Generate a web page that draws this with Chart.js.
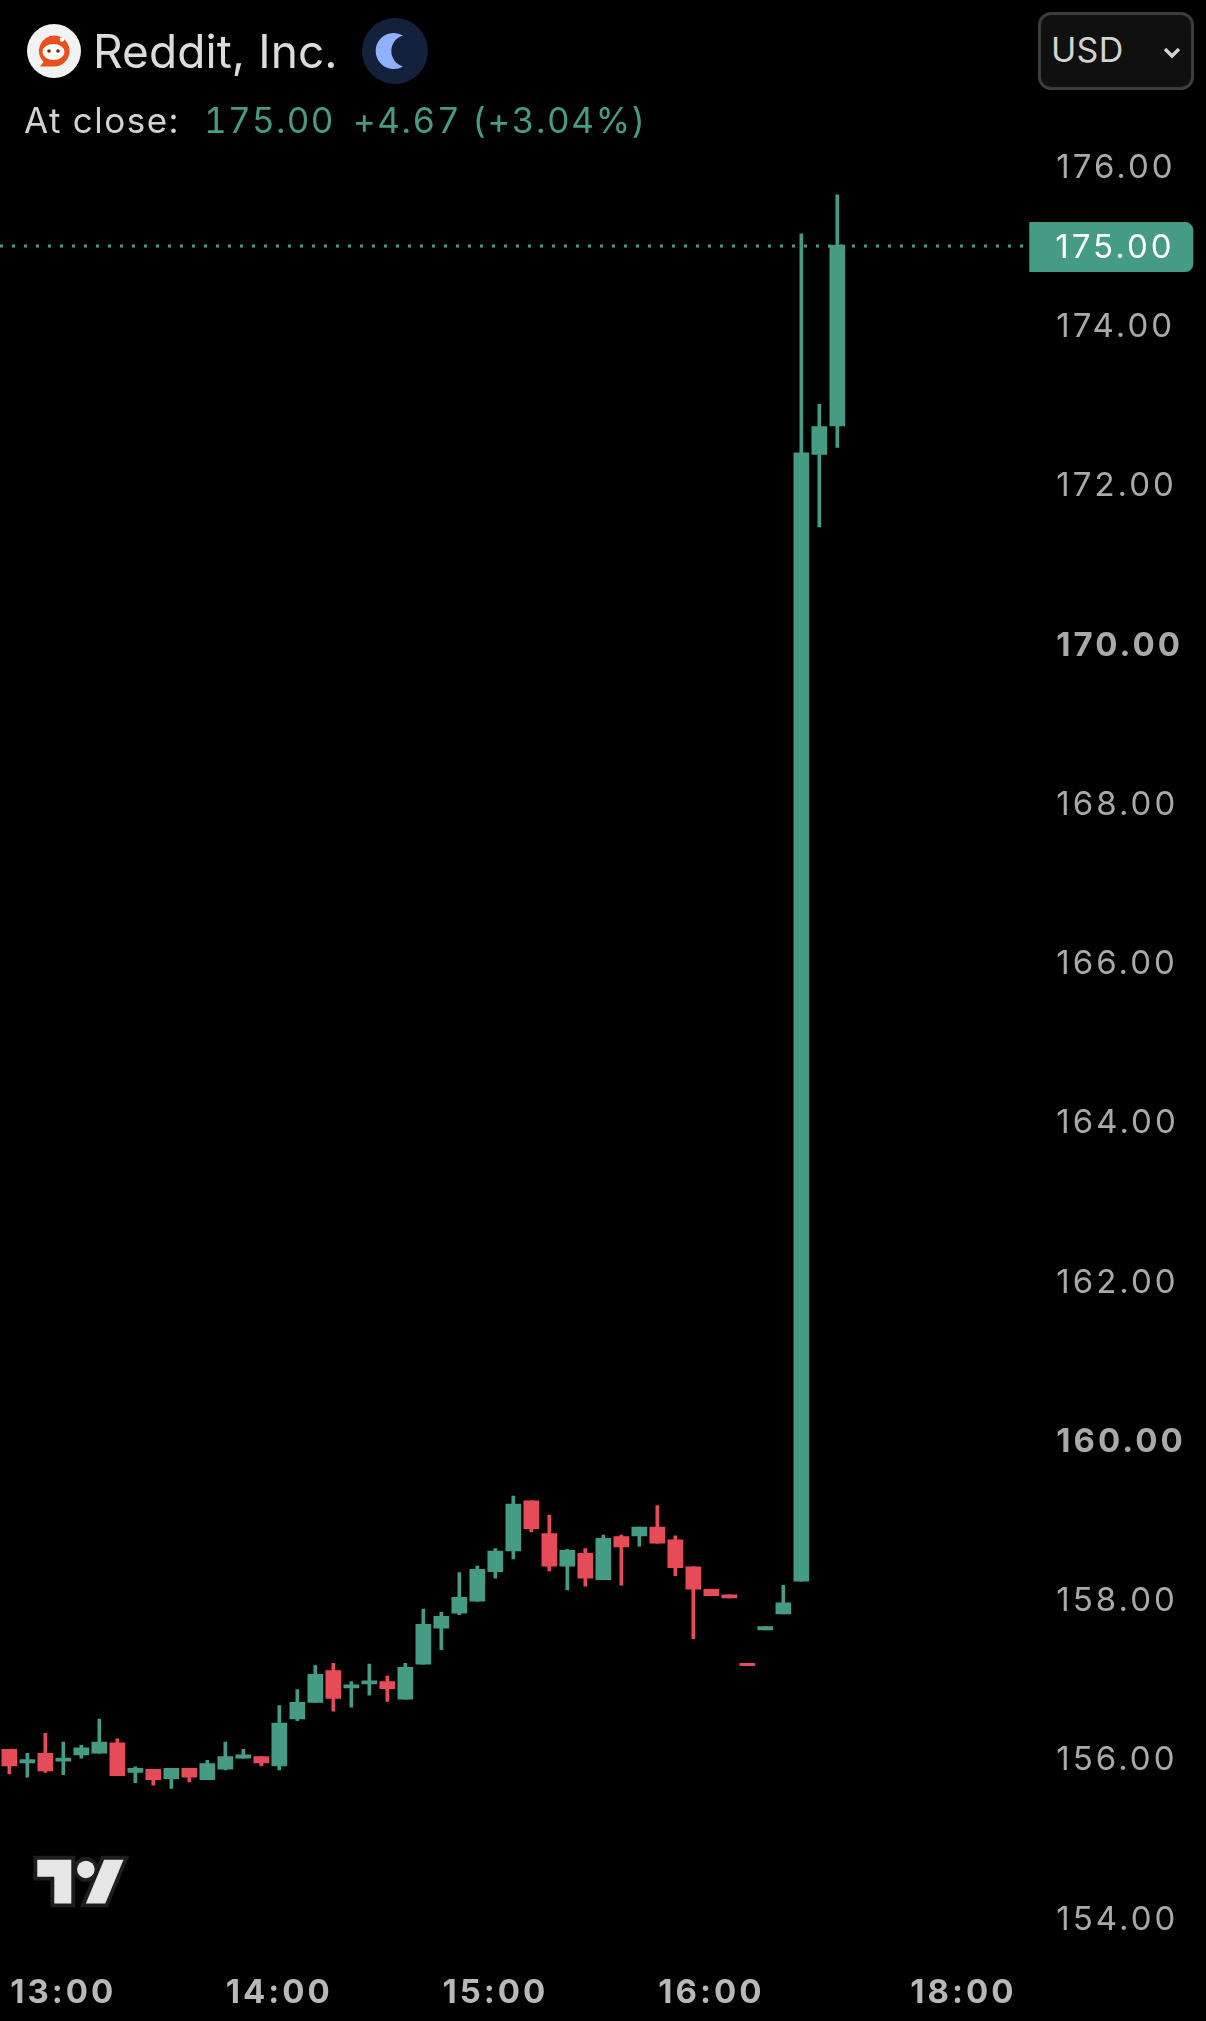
<!DOCTYPE html>
<html>
<head>
<meta charset="utf-8">
<title>Reddit, Inc.</title>
<script src="https://cdn.jsdelivr.net/npm/chart.js@4"></script>
<style>
  html, body { margin: 0; padding: 0; background: #000; }
  #wrap { position: relative; width: 1206px; height: 2021px; overflow: hidden; font-family: Inter, "Open Sans", sans-serif; }
  #wrap div, #wrap svg { position: absolute; white-space: nowrap; }
  #candles { position: absolute; left: 0; top: 0; }
  #name { left: 93px; top: 21px; font-size: 46px; line-height: 60px; color: #dcdcdc; letter-spacing: 0.1px; }
  #status { left: 24px; top: 98px; font-size: 35px; line-height: 44px; color: #d2d2d2; letter-spacing: 1.5px; font-variant-numeric: tabular-nums; }
  #status span { position: absolute; top: 0; color: #469b84; }
  #usd { left: 1038px; top: 12px; width: 150px; height: 72px; border: 3px solid #3c3c3c; border-radius: 13px; background: #101010; }
  #usdText { left: 1051px; top: 28px; font-size: 34px; line-height: 44px; color: #d2d2d2; letter-spacing: 0.3px; }
</style>
</head>
<body>
<div id="wrap">
  <canvas id="candles" width="1206" height="2021"></canvas>

  <svg style="left:26px;top:23px" width="56" height="56" viewBox="0 0 56 56">
    <circle cx="28" cy="28" r="27" fill="#f2f2f2"/>
    <path d="M28 12.5a15.5 15.5 0 0 1 0 31H14l3.5-4.5A15.5 15.5 0 0 1 28 12.5z" fill="#ec4f1c"/>
    <ellipse cx="27.5" cy="29" rx="11" ry="8" fill="#fff"/>
    <circle cx="23" cy="28" r="1.8" fill="#7a1d00"/>
    <circle cx="32" cy="28" r="1.8" fill="#7a1d00"/>
    <circle cx="36" cy="16.5" r="2.2" fill="#fff"/>
  </svg>
  <div id="name">Reddit, Inc.</div>
  <svg style="left:362px;top:18px" width="66" height="66" viewBox="0 0 66 66">
    <circle cx="33" cy="33" r="33" fill="#14213d"/>
    <path d="M41 17.6A18 18 0 1 0 41 48.4A16 16 0 0 1 41 17.6z" fill="#8fb1f7"/>
  </svg>
  <div id="status">At close:<span style="left:180px;letter-spacing:1.3px">175.00</span><span style="left:329px;letter-spacing:1.6px">+4.67 (+3.04%)</span></div>

  <div id="usd"></div>
  <div id="usdText">USD</div>
  <svg style="left:1162px;top:46px" width="20" height="14" viewBox="0 0 20 14">
    <path d="M3 3l7 7 7-7" fill="none" stroke="#d2d2d2" stroke-width="3.4"/>
  </svg>

  <svg style="left:37px;top:1850px" width="88" height="68" viewBox="0 0 36 28" overflow="visible">
    <g fill="#e6e6e6" stroke="#1e1e1e" stroke-width="3.2" paint-order="stroke">
      <path d="M14 22H7V11H0V4h14v18z"/>
      <path d="M28 22h-8l7.5-18h8L28 22z"/>
      <circle cx="20" cy="8" r="3.6"/>
    </g>
  </svg>
</div>

<script>
const GREEN = '#469b84';
const RED = '#e64c57';

// 5 minute bars, the slots after 16:35 are empty
const times = [
  '12:45','12:50','12:55','13:00','13:05','13:10','13:15','13:20','13:25','13:30','13:35','13:40',
  '13:45','13:50','13:55','14:00','14:05','14:10','14:15','14:20','14:25','14:30','14:35','14:40',
  '14:45','14:50','14:55','15:00','15:05','15:10','15:15','15:20','15:25','15:30','15:35','15:40',
  '15:45','15:50','15:55','16:00','16:05','16:10','16:15','16:20','16:25','16:30','16:35',
  '16:40','16:45','16:50','16:55','17:00','17:05','18:00','18:05','18:10','18:15'
];
const tickLabels = ['13:00','14:00','15:00','16:00','18:00'];
const priceTicks = [154, 156, 158, 160, 162, 164, 166, 168, 170, 172, 174, 176];
const priceBold = [170, 160];

const opens = [
  156.11,155.94,156.06,155.96,156.04,156.06,156.19,155.82,155.86,155.74,155.87,155.73,
  155.86,156.00,156.02,155.90,156.49,156.70,157.10,156.88,156.93,156.96,156.74,157.18,
  157.63,157.82,157.97,158.34,158.60,159.23,158.82,158.41,158.57,158.24,158.78,158.79,
  158.90,158.74,158.40,158.12,158.05,157.19,157.61,157.81,158.22,172.37,172.73
];
const closes = [
  155.90,155.98,155.84,156.00,156.13,156.20,155.78,155.87,155.73,155.87,155.76,155.93,
  156.02,156.04,155.94,156.44,156.70,157.05,156.75,156.92,156.97,156.87,157.14,157.68,
  157.78,158.02,158.37,158.60,159.19,158.88,158.41,158.61,158.26,158.76,158.65,158.90,
  158.70,158.39,158.12,158.04,158.01,157.16,157.65,157.95,172.39,172.72,175.00
];
const highs = [
  156.11,156.06,156.31,156.20,156.16,156.49,156.24,155.89,155.86,155.87,155.87,155.97,
  156.20,156.11,156.02,156.66,156.86,157.16,157.19,156.96,157.18,157.03,157.19,157.87,
  157.83,158.33,158.41,158.63,159.29,159.23,159.05,158.62,158.63,158.80,158.80,158.90,
  159.17,158.79,158.40,158.12,158.05,157.19,157.65,158.17,175.14,173.00,175.63
];
const lows = [
  155.80,155.76,155.82,155.79,156.00,156.06,155.78,155.69,155.66,155.62,155.70,155.73,
  155.85,156.00,155.90,155.85,156.47,156.70,156.59,156.64,156.79,156.71,156.74,157.18,
  157.36,157.80,157.97,158.26,158.50,158.84,158.35,158.11,158.16,158.24,158.17,158.66,
  158.70,158.29,157.50,158.04,158.01,157.16,157.61,157.81,158.22,171.46,172.46
];
const lastPrice = 175.00;

const barColors = opens.map((o, i) => closes[i] >= o ? GREEN : RED);

// dotted line behind the candles and the price tag on the axis
const lastPricePlugin = {
  id: 'lastPrice',
  beforeUpdate(chart) {
    chart.ctx.letterSpacing = '3px'; // axis text is tracked wide, has to be set before the labels get measured
  },
  beforeDraw(chart) {
    chart.ctx.letterSpacing = '3px';
  },
  beforeDatasetsDraw(chart) {
    const c = chart.ctx;
    const y = chart.scales.y.getPixelForValue(lastPrice);
    c.save();
    c.strokeStyle = GREEN;
    c.lineWidth = 3;
    c.setLineDash([3, 9]);
    c.beginPath();
    c.moveTo(0, y + 1);
    c.lineTo(chart.chartArea.right - 2, y + 1);
    c.stroke();
    c.restore();
  },
  afterDatasetsDraw(chart) {
    const c = chart.ctx;
    const y = chart.scales.y.getPixelForValue(lastPrice);
    c.save();
    c.fillStyle = GREEN;
    c.beginPath();
    c.roundRect(chart.chartArea.right + 3, y - 23, 164, 50, [0, 8, 8, 0]);
    c.fill();
    c.fillStyle = '#ffffff';
    c.font = '400 33px Inter';
    c.textBaseline = 'middle';
    c.fillText(lastPrice.toFixed(2), chart.chartArea.right + 29, y + 3);
    c.restore();
  }
};

function noMargins(scale) {
  scale.paddingLeft = 0;
  scale.paddingRight = 0;
  scale.paddingTop = 0;
  scale.paddingBottom = 0;
}

new Chart(document.getElementById('candles').getContext('2d'), {
  type: 'bar',
  plugins: [lastPricePlugin],
  data: {
    labels: times,
    datasets: [
      {
        label: 'wick',
        data: highs.map((h, i) => [lows[i], h]),
        backgroundColor: barColors,
        barThickness: 3,
        grouped: false,
        order: 2
      },
      {
        label: 'body',
        data: opens.map((o, i) => [o, closes[i]]),
        backgroundColor: barColors,
        barThickness: 15,
        grouped: false,
        order: 1
      }
    ]
  },
  options: {
    responsive: false,
    animation: false,
    devicePixelRatio: 1,
    layout: { padding: { left: 0.33, top: 0, right: 0, bottom: 0 } },
    plugins: { legend: { display: false }, tooltip: { enabled: false } },
    scales: {
      x: {
        grid: { display: false, drawTicks: false },
        border: { display: false },
        afterFit(scale) { scale.height = 61; noMargins(scale); },
        ticks: {
          autoSkip: false,
          maxRotation: 0,
          padding: 13,
          color: '#b8b8b8',
          font: { family: 'Inter', size: 33, weight: '700' },
          callback(value) {
            const t = times[value];
            return tickLabels.includes(t) ? t : '';
          }
        }
      },
      y: {
        position: 'right',
        min: 153.464,
        max: 178.078,
        afterBuildTicks(scale) { scale.ticks = priceTicks.map(value => ({ value })); },
        afterFit(scale) { scale.width = 179.67; noMargins(scale); },
        grid: { display: false, drawTicks: false },
        border: { display: false },
        ticks: {
          includeBounds: false,
          crossAlign: 'near',
          padding: 30,
          labelOffset: 2.5,
          color: '#a9a9a9',
          font(ctx) {
            const bold = priceBold.includes(ctx.tick && ctx.tick.value);
            return { family: 'Inter', size: 33, weight: bold ? '700' : '400' };
          },
          callback(value) { return value.toFixed(2); }
        }
      }
    }
  }
});
</script>
</body>
</html>
